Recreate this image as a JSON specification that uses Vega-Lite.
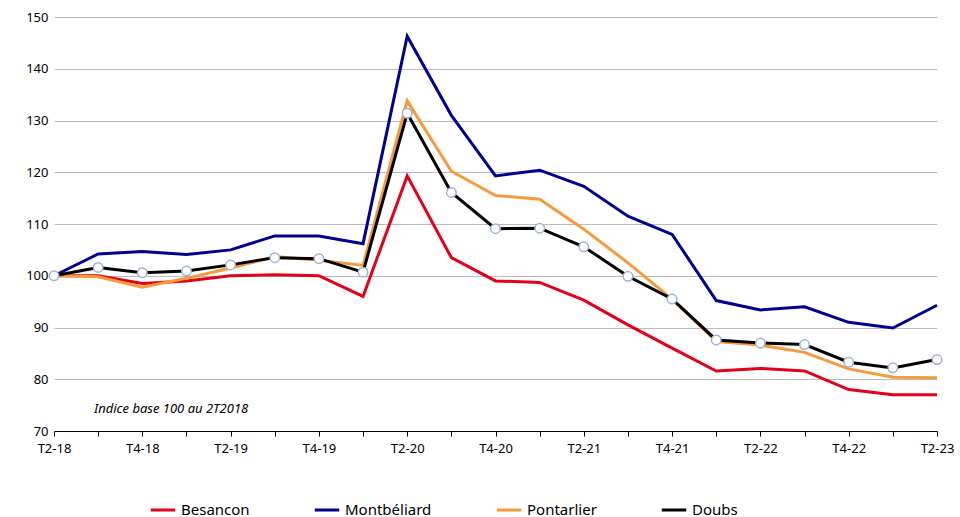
{
  "$schema": "https://vega.github.io/schema/vega-lite/v6.json",
  "width": 883,
  "height": 414,
  "autosize": {"type": "none"},
  "padding": {"left": 54, "top": 17, "right": 23, "bottom": 86},
  "background": "white",
  "config": {"font": "Noto Sans", "view": {"stroke": null}},
  "data": {"values": [
    {"q": "T2-18", "Besancon": 100, "Montbéliard": 100, "Pontarlier": 100, "Doubs": 100},
    {"q": "T3-18", "Besancon": 100, "Montbéliard": 104.2, "Pontarlier": 99.8, "Doubs": 101.6},
    {"q": "T4-18", "Besancon": 98.5, "Montbéliard": 104.7, "Pontarlier": 97.8, "Doubs": 100.6},
    {"q": "T1-19", "Besancon": 99, "Montbéliard": 104.1, "Pontarlier": 99.5, "Doubs": 100.9},
    {"q": "T2-19", "Besancon": 100, "Montbéliard": 105, "Pontarlier": 101.5, "Doubs": 102.1},
    {"q": "T3-19", "Besancon": 100.2, "Montbéliard": 107.7, "Pontarlier": 103.7, "Doubs": 103.5},
    {"q": "T4-19", "Besancon": 100, "Montbéliard": 107.7, "Pontarlier": 103, "Doubs": 103.3},
    {"q": "T1-20", "Besancon": 96, "Montbéliard": 106.2, "Pontarlier": 102, "Doubs": 100.7},
    {"q": "T2-20", "Besancon": 119.3, "Montbéliard": 146.3, "Pontarlier": 133.8, "Doubs": 131.4},
    {"q": "T3-20", "Besancon": 103.5, "Montbéliard": 131, "Pontarlier": 120.2, "Doubs": 116.1},
    {"q": "T4-20", "Besancon": 99, "Montbéliard": 119.3, "Pontarlier": 115.5, "Doubs": 109.1},
    {"q": "T1-21", "Besancon": 98.7, "Montbéliard": 120.4, "Pontarlier": 114.8, "Doubs": 109.2},
    {"q": "T2-21", "Besancon": 95.3, "Montbéliard": 117.3, "Pontarlier": 109, "Doubs": 105.6},
    {"q": "T3-21", "Besancon": 90.5, "Montbéliard": 111.5, "Pontarlier": 102.5, "Doubs": 99.9},
    {"q": "T4-21", "Besancon": 86, "Montbéliard": 108, "Pontarlier": 95.5, "Doubs": 95.5},
    {"q": "T1-22", "Besancon": 81.6, "Montbéliard": 95.2, "Pontarlier": 87.3, "Doubs": 87.6},
    {"q": "T2-22", "Besancon": 82.1, "Montbéliard": 93.4, "Pontarlier": 86.6, "Doubs": 87},
    {"q": "T3-22", "Besancon": 81.6, "Montbéliard": 94, "Pontarlier": 85.2, "Doubs": 86.7},
    {"q": "T4-22", "Besancon": 78, "Montbéliard": 91, "Pontarlier": 82, "Doubs": 83.3},
    {"q": "T1-23", "Besancon": 77, "Montbéliard": 89.9, "Pontarlier": 80.4, "Doubs": 82.2},
    {"q": "T2-23", "Besancon": 77, "Montbéliard": 94.3, "Pontarlier": 80.3, "Doubs": 83.8}
  ]},
  "transform": [{"fold": ["Besancon", "Montbéliard", "Pontarlier", "Doubs"], "as": ["serie", "valeur"]}],
  "encoding": {
    "x": {
      "field": "q", "type": "ordinal", "sort": null, "title": null,
      "scale": {"type": "point", "padding": 0},
      "axis": {"labelAngle": 0, "labelFontSize": 13, "labelColor": "#000", "domainColor": "#000", "tickColor": "#000", "tickSize": 5, "grid": false, "labelPadding": 6,
        "labelExpr": "indexof(datum.label,'T2')==0 || indexof(datum.label,'T4')==0 ? datum.label : ''"}
    },
    "y": {
      "field": "valeur", "type": "quantitative", "title": null,
      "scale": {"domain": [70, 150], "nice": false, "zero": false},
      "axis": {"values": [70, 80, 90, 100, 110, 120, 130, 140, 150], "labelFontSize": 13, "labelColor": "#000", "domain": false, "ticks": false, "gridColor": "#bbbbbb", "labelPadding": 6}
    },
    "color": {
      "field": "serie", "type": "nominal", "title": null,
      "scale": {"domain": ["Besancon", "Montbéliard", "Pontarlier", "Doubs"], "range": ["#e3001b", "#000091", "#f89a3a", "#000000"]},
      "legend": {"orient": "none", "legendX": 95, "legendY": 479, "direction": "horizontal", "symbolType": "stroke", "symbolStrokeWidth": 3, "symbolSize": 600, "labelFontSize": 15, "columnPadding": 58, "labelColor": "#000"}
    }
  },
  "layer": [
    {"mark": {"type": "line", "strokeWidth": 3}},
    {
      "transform": [{"filter": "datum.serie == 'Doubs'"}],
      "mark": {"type": "point", "filled": true, "fill": "white", "stroke": "#9fb0d8", "strokeWidth": 1.5, "size": 90, "opacity": 1}
    },
    {
      "data": {"values": [{"t": "Indice base 100 au 2T2018"}]},
      "mark": {"type": "text", "align": "left", "fontStyle": "italic", "fontSize": 13, "x": 40, "y": 392},
      "encoding": {"text": {"field": "t"}, "x": null, "y": null, "color": null}
    }
  ]
}
